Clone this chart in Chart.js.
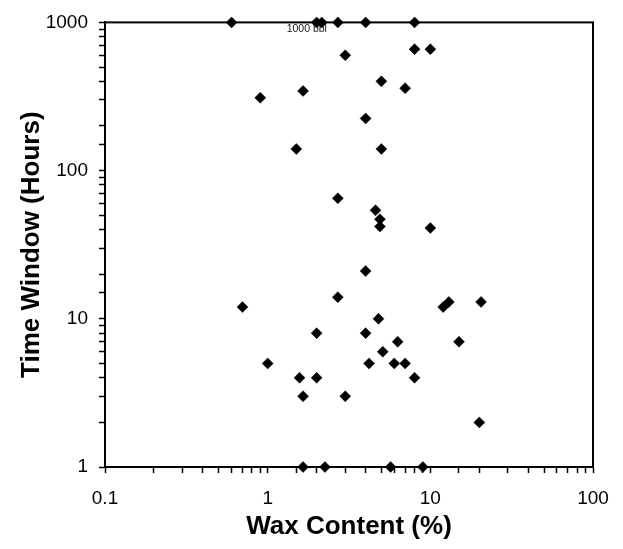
<!DOCTYPE html>
<html>
<head>
<meta charset="utf-8">
<script src="https://cdn.jsdelivr.net/npm/chart.js@4"></script>
<style>
  html, body { margin: 0; padding: 0; background: #fff; }
  #wrap { width: 623px; height: 549px; }
</style>
</head>
<body>
<div id="wrap"><canvas id="waxChart" width="623" height="549"></canvas></div>
<script>
// wax content (%) vs. time window (hours), one entry per sample
const waxContent = [0.6, 2.0, 2.15, 2.7, 4.0, 8.0,
  3.0, 8.0, 10.0, 5.0, 7.0, 1.65, 0.9, 4.0, 1.5, 5.0,
  2.7, 4.6, 4.9, 4.9, 10.0, 4.0, 2.7, 0.7, 12.0, 13.0, 20.5,
  4.8, 2.0, 4.0, 6.3, 15.0, 5.1, 1.0, 4.2, 6.0, 7.0,
  1.57, 2.0, 8.0, 1.65, 3.0, 20.0, 1.65, 2.25, 5.7, 9.0];
const timeWindow = [1000, 1000, 1000, 1000, 1000, 1000,
  600, 660, 660, 400, 360, 345, 310, 225, 140, 140,
  65, 54, 47, 42, 41, 21, 14, 12, 12, 13, 13,
  10, 8, 8, 7, 7, 6, 5, 5, 5, 5,
  4, 4, 4, 3, 3, 2, 1, 1, 1, 1];

const xTicks = [0.1, 1, 10, 100];
const yTicks = [1, 10, 100, 1000];
const xTitle = 'Wax Content (%)';
const yTitle = 'Time Window (Hours)';
const note = { text: '1000 bbl', x: 1.74, y: 1000 };

const points = waxContent.map((x, i) => ({ x, y: timeWindow[i] }));

function isDecade(v) {
  const l = Math.log10(v);
  return Math.abs(l - Math.round(l)) < 1e-9;
}

// outline the plot area and put the small note under the top edge
const frame = {
  id: 'frame',
  beforeDatasetsDraw(chart) {
    const {ctx, chartArea: a, scales} = chart;
    ctx.save();
    ctx.strokeStyle = '#000';
    ctx.lineWidth = 2;
    ctx.strokeRect(a.left, a.top, a.right - a.left, a.bottom - a.top);
    ctx.fillStyle = '#222';
    ctx.font = '10.5px "Liberation Sans", Arial, sans-serif';
    ctx.textAlign = 'center';
    ctx.textBaseline = 'top';
    ctx.fillText(note.text, scales.x.getPixelForValue(note.x), scales.y.getPixelForValue(note.y) + 1);
    ctx.restore();
  }
};

const tickFont = { family: '"Liberation Sans", Arial, sans-serif', size: 19 };
const titleFont = { family: '"Liberation Sans", Arial, sans-serif', size: 26, weight: 'bold' };

new Chart(document.getElementById('waxChart'), {
  type: 'scatter',
  data: {
    datasets: [{
      data: points,
      pointStyle: 'rectRot',
      pointRadius: 5.5,
      pointHoverRadius: 5.5,
      backgroundColor: '#000',
      borderColor: '#000',
      borderWidth: 0.5,
      clip: false
    }]
  },
  options: {
    responsive: false,
    animation: false,
    events: [],
    layout: { padding: { top: 19, right: 30, left: 0, bottom: 0 } },
    plugins: { legend: { display: false }, tooltip: { enabled: false } },
    scales: {
      x: {
        type: 'logarithmic',
        min: xTicks[0],
        max: xTicks[xTicks.length - 1],
        afterFit(s) { s.height = 82; },
        border: { display: true, color: '#000', width: 2 },
        grid: { drawOnChartArea: false, drawTicks: true, tickLength: 6, tickColor: '#000', tickWidth: 1.5 },
        ticks: {
          autoSkip: false, maxRotation: 0, color: '#000', font: tickFont, padding: 14,
          callback: v => (isDecade(v) && xTicks.some(t => Math.abs(t - v) < 1e-9)) ? String(v) : ''
        },
        title: { display: true, text: xTitle, color: '#000', font: titleFont, padding: { top: 0, bottom: 7 } }
      },
      y: {
        type: 'logarithmic',
        min: yTicks[0],
        max: yTicks[yTicks.length - 1],
        afterFit(s) { s.width = 105; },
        border: { display: true, color: '#000', width: 2 },
        grid: { drawOnChartArea: false, drawTicks: true, tickLength: 6, tickColor: '#000', tickWidth: 1.5 },
        ticks: {
          autoSkip: false, color: '#000', font: tickFont, padding: 11,
          callback: v => (isDecade(v) && yTicks.some(t => Math.abs(t - v) < 1e-9)) ? String(v) : ''
        },
        title: { display: true, text: yTitle, color: '#000', font: titleFont, padding: { top: 16, bottom: 0 } }
      }
    }
  },
  plugins: [frame]
});
</script>
</body>
</html>
